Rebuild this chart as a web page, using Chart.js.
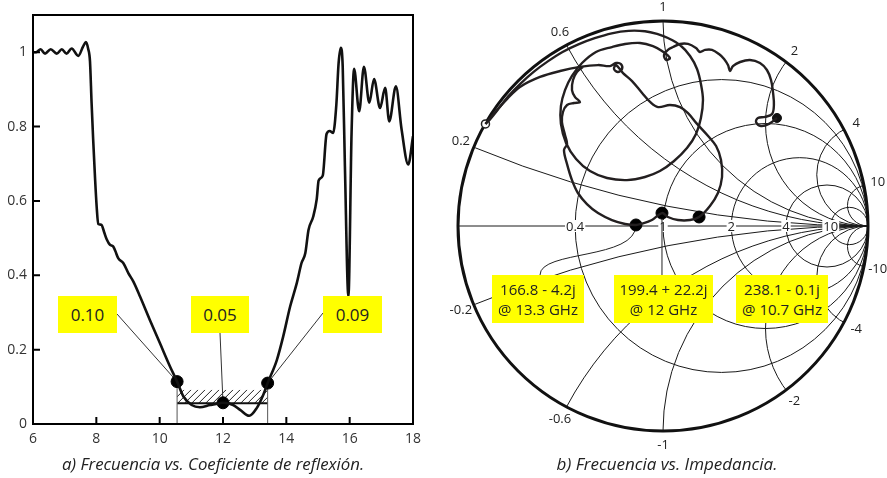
<!DOCTYPE html>
<html>
<head>
<meta charset="utf-8">
<script src="https://cdn.jsdelivr.net/npm/chart.js@4.4.0/dist/chart.umd.min.js"></script>
<style>
  body { margin: 0; background: #fff; width: 887px; height: 478px; position: relative; overflow: hidden; font-family: "Open Sans", sans-serif; }
  canvas { position: absolute; top: 0; }
  #reflChart { left: 0; }
  #smithChart { left: 440px; }
  .box { position: absolute; background: #ffff00; color: #222; display: flex; align-items: center; justify-content: center; text-align: center; z-index: 2; }
  .box.small { font-size: 17px; }
  .box.big { font-size: 15px; line-height: 20px; }
  .cap { position: absolute; top: 452px; font-size: 17px; font-style: italic; color: #222; text-align: center; }
</style>
</head>
<body>
<canvas id="reflChart" width="430" height="478"></canvas>
<canvas id="smithChart" width="447" height="478"></canvas>
<div class="cap" style="left:0;width:426px;font-size:16.8px">a) Frecuencia vs. Coeficiente de reflexión.</div>
<div class="cap" style="left:447px;width:440px">b) Frecuencia vs. Impedancia.</div>
<script>
// a) reflection coefficient vs frequency (GHz)
const freqGHz = [6.0, 6.1, 6.24, 6.38, 6.56, 6.75, 6.91, 7.06, 7.22, 7.43, 7.58, 7.67, 7.74, 7.8, 7.85, 7.9, 7.96, 8.01, 8.06, 8.16,
  8.25, 8.33, 8.43, 8.53, 8.6, 8.69, 8.85, 9.01, 9.17, 9.38, 9.69, 10.01, 10.33, 10.55, 10.75, 11.01, 11.27, 11.59, 11.9, 12.0,
  12.32, 12.54, 12.83, 13.06, 13.27, 13.41, 13.7, 13.9, 14.12, 14.33, 14.48, 14.6, 14.7, 14.85, 14.96, 15.02, 15.15, 15.27, 15.37, 15.48,
  15.58, 15.65, 15.72, 15.78, 15.85, 15.96, 16.06, 16.14, 16.3, 16.45, 16.62, 16.77, 16.96, 17.12, 17.25, 17.46, 17.64, 17.85, 18.0];
const reflCoef = [1.0, 1.0, 1.008, 0.996, 1.008, 0.996, 1.008, 0.996, 1.01, 0.99, 1.015, 1.027, 1.01, 0.975, 0.864, 0.765, 0.66, 0.585, 0.538, 0.536,
  0.515, 0.496, 0.482, 0.478, 0.465, 0.446, 0.433, 0.406, 0.383, 0.343, 0.28, 0.217, 0.154, 0.114, 0.074, 0.051, 0.045, 0.051, 0.056, 0.057,
  0.051, 0.038, 0.022, 0.042, 0.078, 0.11, 0.172, 0.235, 0.316, 0.379, 0.433, 0.46, 0.522, 0.558, 0.605, 0.655, 0.668, 0.78, 0.788, 0.783,
  0.86, 0.97, 1.012, 0.962, 0.693, 0.343, 0.783, 0.955, 0.841, 0.961, 0.864, 0.928, 0.85, 0.904, 0.814, 0.908, 0.792, 0.698, 0.774];
const markerFreq = [10.55, 12.0, 13.41];
const markerRefl = [0.114, 0.057, 0.11];
const markerText = ['0.10', '0.05', '0.09'];
const bandFreq = [10.55, 13.41];
const bandRefl = [0.056, 0.092];
const xTicks = [6, 8, 10, 12, 14, 16, 18];
const yTicks = [0, 0.2, 0.4, 0.6, 0.8, 1];

// b) Smith chart trace (reflection coefficient, real / imaginary)
const sweepA_re = [-0.866, -0.840, -0.797, -0.755, -0.695, -0.631, -0.562, -0.490, -0.413, -0.333, -0.250, -0.168, -0.088, -0.029, 0.024, 0.083, 0.132, 0.166,
  0.185, 0.195, 0.185, 0.161, 0.117, 0.054, -0.015, -0.088, -0.176, -0.273, -0.356, -0.424, -0.473, -0.498, -0.498, -0.478, -0.444, -0.395,
  -0.327, -0.249, -0.185, -0.112, -0.049, -0.005, 0.034, 0.015, 0.005, 0.024, 0.049, 0.083, 0.122, 0.161, 0.180, 0.205, 0.239, 0.273,
  0.298, 0.317, 0.327, 0.341, 0.376, 0.424, 0.473, 0.507, 0.527, 0.537, 0.541, 0.532, 0.498, 0.463, 0.454, 0.478, 0.517, 0.556];
const sweepA_im = [0.498, 0.525, 0.579, 0.633, 0.695, 0.752, 0.803, 0.849, 0.886, 0.916, 0.940, 0.952, 0.950, 0.937, 0.917, 0.883, 0.829, 0.766,
  0.693, 0.615, 0.527, 0.449, 0.380, 0.317, 0.268, 0.239, 0.224, 0.234, 0.268, 0.327, 0.405, 0.498, 0.585, 0.663, 0.732, 0.795,
  0.849, 0.873, 0.888, 0.893, 0.878, 0.854, 0.820, 0.810, 0.834, 0.859, 0.873, 0.888, 0.888, 0.868, 0.849, 0.859, 0.859, 0.839,
  0.815, 0.785, 0.756, 0.780, 0.800, 0.810, 0.795, 0.761, 0.712, 0.649, 0.590, 0.546, 0.532, 0.527, 0.507, 0.488, 0.498, 0.527];
const sweepB_re = [-0.866, -0.815, -0.760, -0.698, -0.600, -0.502, -0.405, -0.317, -0.259, -0.229, -0.205, -0.200, -0.220, -0.239, -0.229, -0.195, -0.151, -0.102,
  -0.063, -0.024, 0.034, 0.083, 0.122, 0.166, 0.220, 0.259, 0.283, 0.288, 0.268, 0.229, 0.176, 0.132, 0.073, 0.024, -0.005, -0.054,
  -0.107, -0.132, -0.185, -0.249, -0.317, -0.371, -0.415, -0.444, -0.468, -0.483, -0.468, -0.478, -0.493, -0.488, -0.468, -0.434,
  -0.405, -0.429, -0.444, -0.439, -0.420, -0.390];
const sweepB_im = [0.498, 0.560, 0.620, 0.678, 0.727, 0.756, 0.776, 0.785, 0.780, 0.795, 0.790, 0.766, 0.751, 0.766, 0.785, 0.746, 0.707, 0.649,
  0.605, 0.580, 0.590, 0.580, 0.551, 0.498, 0.439, 0.390, 0.322, 0.239, 0.161, 0.098, 0.044, 0.029, 0.029, 0.044, 0.063, 0.029,
  0.010, 0.005, 0.010, 0.029, 0.063, 0.107, 0.161, 0.224, 0.302, 0.371, 0.400, 0.444, 0.507, 0.556, 0.590, 0.600,
  0.605, 0.629, 0.663, 0.712, 0.751, 0.776];
const dotRe = [0.176, -0.005, -0.132];
const dotIm = [0.044, 0.063, 0.005];
const dotText = [['238.1 - 0.1j', '@ 10.7 GHz'], ['199.4 + 22.2j', '@ 12 GHz'], ['166.8 - 4.2j', '@ 13.3 GHz']];
const resistanceCircles = [0.4, 1, 2, 4, 10];
const reactanceArcs = [0.2, 0.6, 1, 2, 4, 10];

Chart.defaults.font.family = '"Open Sans", sans-serif';
Chart.defaults.color = '#333';

// label boxes (page pixels) and where their leader lines leave them
const reflBoxes = [
  { l: 58, t: 296, w: 59, h: 37, ax: 117, ay: 314 },
  { l: 191, t: 296, w: 58, h: 37, ax: 220, ay: 333 },
  { l: 323, t: 296, w: 59, h: 37, ax: 323, ay: 313 }
];
const smithBoxes = [
  { l: 736, t: 275, w: 92, h: 48 },
  { l: 614, t: 275, w: 99, h: 48 },
  { l: 492, t: 275, w: 92, h: 48 }
];
reflBoxes.forEach((b, i) => addBox(b, markerText[i], 'small'));
smithBoxes.forEach((b, i) => addBox(b, dotText[i].join('<br>'), 'big'));

function addBox(b, html, cls) {
  const d = document.createElement('div');
  d.className = 'box ' + cls;
  Object.assign(d.style, { left: b.l + 'px', top: b.t + 'px', width: b.w + 'px', height: b.h + 'px' });
  d.innerHTML = html;
  document.body.appendChild(d);
}

const reflDeco = {
  id: 'reflDeco',
  beforeDatasetsDraw(chart) {
    const { ctx, scales: { x, y } } = chart;
    const x0 = x.getPixelForValue(bandFreq[0]), x1 = x.getPixelForValue(bandFreq[1]);
    const yb = y.getPixelForValue(bandRefl[0]), yt = y.getPixelForValue(bandRefl[1]);
    const h = yb - yt;
    ctx.save();
    ctx.beginPath(); ctx.rect(x0, yt, x1 - x0, h); ctx.clip();
    ctx.strokeStyle = '#222'; ctx.lineWidth = 1;
    ctx.beginPath();
    for (let s = x0 - h; s < x1 + h; s += 7) { ctx.moveTo(s, yb); ctx.lineTo(s + h, yt); }
    ctx.stroke();
    ctx.restore();
    ctx.save();
    ctx.strokeStyle = '#111'; ctx.lineWidth = 2;
    ctx.beginPath(); ctx.moveTo(x0, yb); ctx.lineTo(x1, yb); ctx.stroke();
    ctx.strokeStyle = '#555'; ctx.lineWidth = 1;
    ctx.beginPath();
    [0, 2].forEach(i => {
      const px = x.getPixelForValue(markerFreq[i]);
      ctx.moveTo(px, y.getPixelForValue(0)); ctx.lineTo(px, y.getPixelForValue(markerRefl[i]));
    });
    ctx.stroke();
    // leader lines from the yellow boxes
    ctx.strokeStyle = '#333';
    ctx.beginPath();
    reflBoxes.forEach((b, i) => {
      ctx.moveTo(b.ax, b.ay);
      ctx.lineTo(x.getPixelForValue(markerFreq[i]), y.getPixelForValue(markerRefl[i]));
    });
    ctx.stroke();
    ctx.restore();
  },
  afterDraw(chart) {
    const { ctx, chartArea: a, scales: { x, y } } = chart;
    ctx.save();
    ctx.strokeStyle = '#000'; ctx.lineWidth = 2;
    ctx.strokeRect(a.left, a.top, a.width, a.height);
    ctx.beginPath();
    xTicks.slice(1, -1).forEach(v => { const px = x.getPixelForValue(v); ctx.moveTo(px, a.bottom); ctx.lineTo(px, a.bottom - 7); });
    yTicks.slice(1).forEach(v => { const py = y.getPixelForValue(v); ctx.moveTo(a.left, py); ctx.lineTo(a.left + 7, py); });
    ctx.stroke();
    ctx.restore();
  }
};

new Chart(document.getElementById('reflChart'), {
  type: 'line',
  data: {
    datasets: [
      {
        data: freqGHz.map((f, i) => ({ x: f, y: reflCoef[i] })),
        borderColor: '#111',
        borderWidth: 2.6,
        pointRadius: 0,
        cubicInterpolationMode: 'monotone'
      },
      {
        type: 'scatter',
        data: markerFreq.map((f, i) => ({ x: f, y: markerRefl[i] })),
        pointRadius: 6,
        backgroundColor: '#000',
        borderColor: '#000'
      }
    ]
  },
  options: {
    responsive: false,
    animation: false,
    layout: { padding: { top: 15, right: 17, left: 0, bottom: 0 } },
    plugins: { legend: { display: false }, tooltip: { enabled: false } },
    scales: {
      x: {
        type: 'linear', min: 6, max: 18,
        afterBuildTicks: s => { s.ticks = xTicks.map(v => ({ value: v })); },
        afterFit: s => { s.height = 54; },
        grid: { display: false, drawTicks: false },
        border: { display: false },
        ticks: { padding: 7, font: { size: 14 }, color: '#333' }
      },
      y: {
        min: 0, max: 1.1,
        afterBuildTicks: s => { s.ticks = yTicks.map(v => ({ value: v })); },
        afterFit: s => { s.width = 33; },
        grid: { display: false, drawTicks: false },
        border: { display: false },
        ticks: { padding: 6, font: { size: 14 }, color: '#333', callback: v => String(+v.toFixed(1)) }
      }
    }
  },
  plugins: [reflDeco]
});

const smithGrid = {
  id: 'smithGrid',
  beforeDatasetsDraw(chart) {
    const { ctx, scales: { x, y } } = chart;
    const cx = x.getPixelForValue(0), cy = y.getPixelForValue(0);
    const R = x.getPixelForValue(1) - cx;
    ctx.save();
    ctx.beginPath(); ctx.arc(cx, cy, R, 0, 2 * Math.PI); ctx.clip();
    ctx.strokeStyle = '#1a1a1a'; ctx.lineWidth = 1;
    resistanceCircles.forEach(r => {
      ctx.beginPath(); ctx.arc(x.getPixelForValue(r / (1 + r)), cy, R / (1 + r), 0, 2 * Math.PI); ctx.stroke();
    });
    reactanceArcs.forEach(xv => {
      [xv, -xv].forEach(v => {
        ctx.beginPath(); ctx.arc(x.getPixelForValue(1), y.getPixelForValue(1 / v), R / xv, 0, 2 * Math.PI); ctx.stroke();
      });
    });
    ctx.beginPath(); ctx.moveTo(cx - R, cy); ctx.lineTo(cx + R, cy); ctx.stroke();
    ctx.restore();

    ctx.save();
    ctx.strokeStyle = '#111'; ctx.lineWidth = 3;
    ctx.beginPath(); ctx.arc(cx, cy, R, 0, 2 * Math.PI); ctx.stroke();

    ctx.font = '13px "Open Sans", sans-serif';
    ctx.fillStyle = '#222';
    ctx.textAlign = 'center'; ctx.textBaseline = 'middle';
    reactanceArcs.forEach(xv => {
      [xv, -xv].forEach(v => {
        const d = v * v + 1;
        const gr = (v * v - 1) / d, gi = 2 * v / d;
        ctx.fillText(String(v), cx + gr * (R + 14), cy - gi * (R + 14));
      });
    });
    resistanceCircles.forEach(r => {
      const px = x.getPixelForValue((r - 1) / (r + 1));
      const w = ctx.measureText(String(r)).width + 2;
      ctx.fillStyle = '#fff'; ctx.fillRect(px - w / 2, cy - 6, w, 12);
      ctx.fillStyle = '#222'; ctx.fillText(String(r), px, cy + 1);
    });

    // leader lines to the marked frequencies
    const ox = chart.canvas.offsetLeft;
    ctx.strokeStyle = '#222'; ctx.lineWidth = 1;
    const d12x = x.getPixelForValue(dotRe[1]), d12y = y.getPixelForValue(dotIm[1]);
    ctx.beginPath(); ctx.moveTo(d12x, smithBoxes[1].t); ctx.lineTo(d12x, d12y); ctx.stroke();
    const d13x = x.getPixelForValue(dotRe[2]), d13y = y.getPixelForValue(dotIm[2]);
    const sx = smithBoxes[2].l + 48 - ox, sy = smithBoxes[2].t;
    ctx.beginPath(); ctx.moveTo(sx, sy);
    ctx.bezierCurveTo(sx, sy - 25, d13x, sy - 15, d13x, d13y);
    ctx.stroke();
    ctx.restore();
  }
};

const traceStyle = { showLine: true, borderColor: '#231f20', borderWidth: 2.4, pointRadius: 0, tension: 0.35 };

new Chart(document.getElementById('smithChart'), {
  type: 'scatter',
  data: {
    datasets: [
      { ...traceStyle, data: sweepA_re.map((v, i) => ({ x: v, y: sweepA_im[i] })) },
      { ...traceStyle, data: sweepB_re.map((v, i) => ({ x: v, y: sweepB_im[i] })) },
      { data: dotRe.map((v, i) => ({ x: v, y: dotIm[i] })), pointRadius: 6, backgroundColor: '#000', borderColor: '#000' },
      { data: [{ x: sweepA_re.at(-1), y: sweepA_im.at(-1) }], pointRadius: 4.5, backgroundColor: '#111', borderColor: '#111' },
      { data: [{ x: sweepA_re[0], y: sweepA_im[0] }], pointRadius: 4, backgroundColor: '#fff', borderColor: '#222', borderWidth: 1.5 }
    ]
  },
  options: {
    responsive: false,
    animation: false,
    layout: { padding: { left: 18, right: 19, top: 21, bottom: 47 } },
    plugins: { legend: { display: false }, tooltip: { enabled: false } },
    scales: {
      x: { type: 'linear', min: -1, max: 1, display: false },
      y: { type: 'linear', min: -1, max: 1, display: false }
    }
  },
  plugins: [smithGrid]
});
</script>
</body>
</html>
